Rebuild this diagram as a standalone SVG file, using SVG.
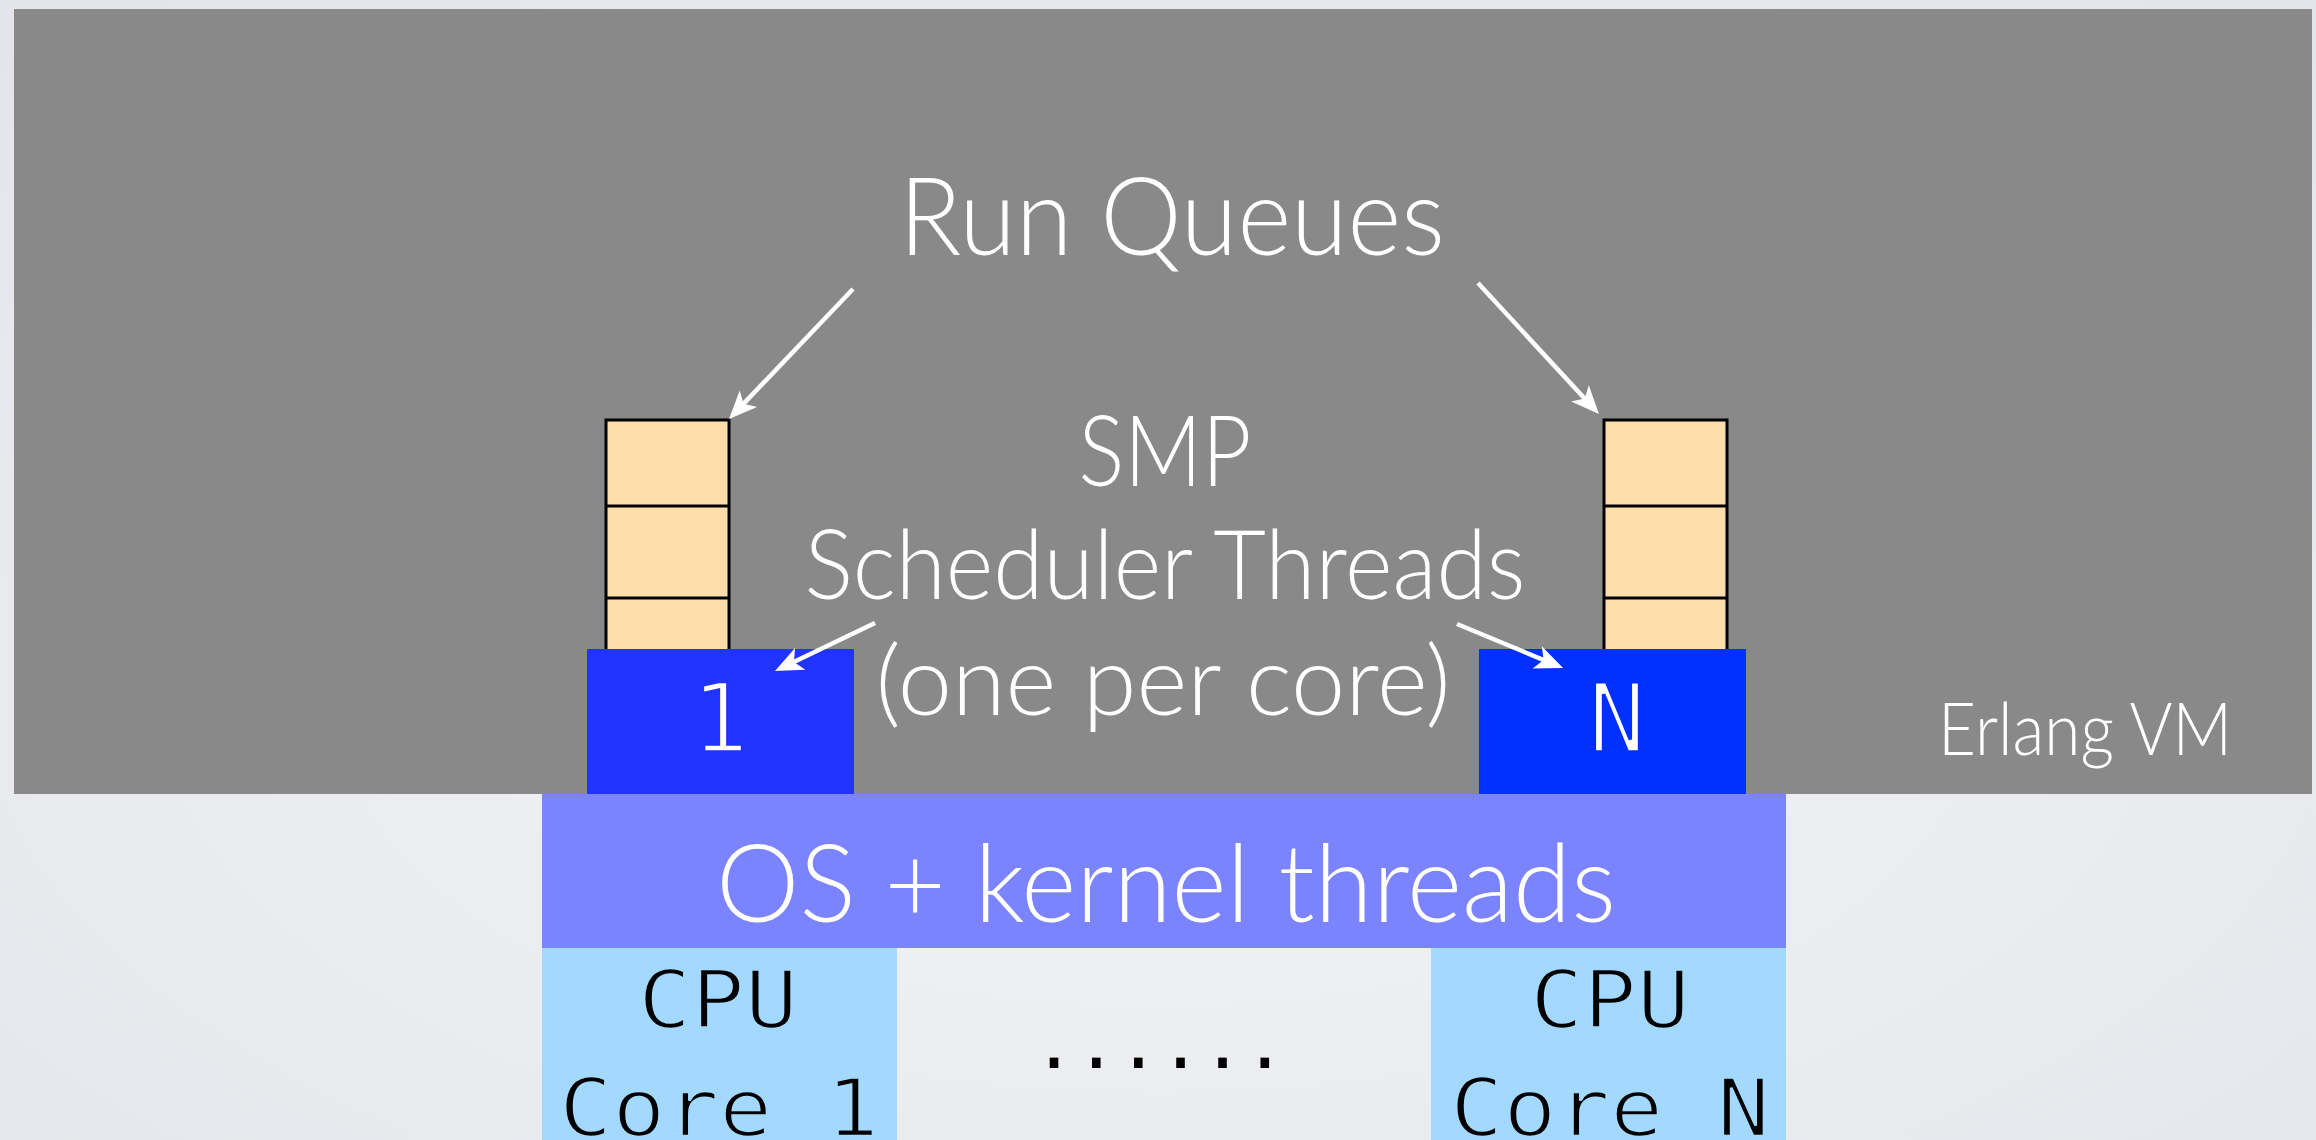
<svg xmlns="http://www.w3.org/2000/svg" width="2316" height="1140" viewBox="0 0 2316 1140">
  <defs>
    <radialGradient id="bg" cx="50%" cy="60%" r="75%">
      <stop offset="0" stop-color="#f3f4f7"/>
      <stop offset="1" stop-color="#e3e5ea"/>
    </radialGradient>
    <marker id="ah" markerUnits="userSpaceOnUse" viewBox="-30 -15 32 30" markerWidth="32" markerHeight="30" refX="-15" refY="0" orient="auto">
      <path d="M0,0 L-28,-12 L-21,0 L-28,12 Z" fill="#ffffff"/>
    </marker>
    <style>
      .sans { font-family: Lato, "Open Sans", "Liberation Sans", sans-serif; font-weight: 300; fill: #ffffff; }
      .mono { font-family: "DejaVu Sans Mono", "Liberation Mono", monospace; }
      .queue { fill: #fddeab; stroke: #000000; stroke-width: 3; }
      .arrow { stroke: #ffffff; stroke-width: 4.5; fill: none; marker-end: url(#ah); }
    </style>
  </defs>

  <rect x="0" y="0" width="2316" height="1140" fill="url(#bg)"/>

  <g id="erlang-vm">
    <rect x="14" y="9" width="2298" height="785" fill="#898989"/>
    <text class="sans" x="2085" y="755" font-size="73" text-anchor="middle" textLength="294" lengthAdjust="spacingAndGlyphs">Erlang VM</text>
  </g>

  <g id="run-queues-label">
    <text class="sans" x="1172" y="255" font-size="108" text-anchor="middle" textLength="546" lengthAdjust="spacingAndGlyphs">Run Queues</text>
  </g>

  <g id="smp-label">
    <text class="sans" x="1165" y="486" font-size="98" text-anchor="middle" textLength="173" lengthAdjust="spacingAndGlyphs">SMP</text>
    <text class="sans" x="1165" y="599" font-size="96" text-anchor="middle" textLength="721" lengthAdjust="spacingAndGlyphs">Scheduler Threads</text>
    <text class="sans" x="1163" y="715" font-size="96" text-anchor="middle" textLength="575" lengthAdjust="spacingAndGlyphs">(one per core)</text>
  </g>

  <g id="queue-1">
    <rect class="queue" x="606" y="420" width="123" height="240"/>
    <line x1="606" y1="506" x2="729" y2="506" stroke="#000" stroke-width="3"/>
    <line x1="606" y1="598" x2="729" y2="598" stroke="#000" stroke-width="3"/>
  </g>

  <g id="queue-n">
    <rect class="queue" x="1604" y="420" width="123" height="240"/>
    <line x1="1604" y1="506" x2="1727" y2="506" stroke="#000" stroke-width="3"/>
    <line x1="1604" y1="598" x2="1727" y2="598" stroke="#000" stroke-width="3"/>
  </g>

  <g id="scheduler-1">
    <rect x="587" y="649" width="267" height="145" fill="#2033ff"/>
    <text class="mono" x="720" y="752" font-size="97" fill="#ffffff" stroke="#2033ff" stroke-width="3.5" text-anchor="middle">1</text>
  </g>

  <g id="scheduler-n">
    <rect x="1479" y="649" width="267" height="145" fill="#0030ff"/>
    <text class="mono" x="1617" y="752" font-size="97" fill="#ffffff" stroke="#0030ff" stroke-width="3.5" text-anchor="middle">N</text>
  </g>

  <g id="os-kernel">
    <rect x="542" y="794" width="1244" height="154" fill="#7b83ff"/>
    <text class="sans" x="1166" y="922" font-size="108" text-anchor="middle" textLength="900" lengthAdjust="spacingAndGlyphs">OS + kernel threads</text>
  </g>

  <g id="cpu-core-1">
    <rect x="542" y="948" width="355" height="192" fill="#a3d8ff"/>
    <text class="mono" x="718" y="1028" font-size="80" fill="#000000" stroke="#a3d8ff" stroke-width="2.5" text-anchor="middle" textLength="160" lengthAdjust="spacingAndGlyphs">CPU</text>
    <text class="mono" x="719" y="1136" font-size="80" fill="#000000" stroke="#a3d8ff" stroke-width="2.5" text-anchor="middle" textLength="320" lengthAdjust="spacingAndGlyphs">Core 1</text>
  </g>

  <g id="cpu-dots">
    <text class="mono" x="1033" y="1068" font-size="70" fill="#000000">......</text>
  </g>

  <g id="cpu-core-n">
    <rect x="1431" y="948" width="355" height="192" fill="#a3d8ff"/>
    <text class="mono" x="1610" y="1028" font-size="80" fill="#000000" stroke="#a3d8ff" stroke-width="2.5" text-anchor="middle" textLength="160" lengthAdjust="spacingAndGlyphs">CPU</text>
    <text class="mono" x="1610" y="1136" font-size="80" fill="#000000" stroke="#a3d8ff" stroke-width="2.5" text-anchor="middle" textLength="320" lengthAdjust="spacingAndGlyphs">Core N</text>
  </g>

  <g id="connectors">
    <line class="arrow" x1="853" y1="289" x2="739.4" y2="408.1"/>
    <line class="arrow" x1="1478" y1="283" x2="1588.8" y2="403.0"/>
    <line class="arrow" x1="875" y1="623" x2="788.5" y2="664.5"/>
    <line class="arrow" x1="1457" y1="624" x2="1549.2" y2="662.3"/>
  </g>
</svg>
